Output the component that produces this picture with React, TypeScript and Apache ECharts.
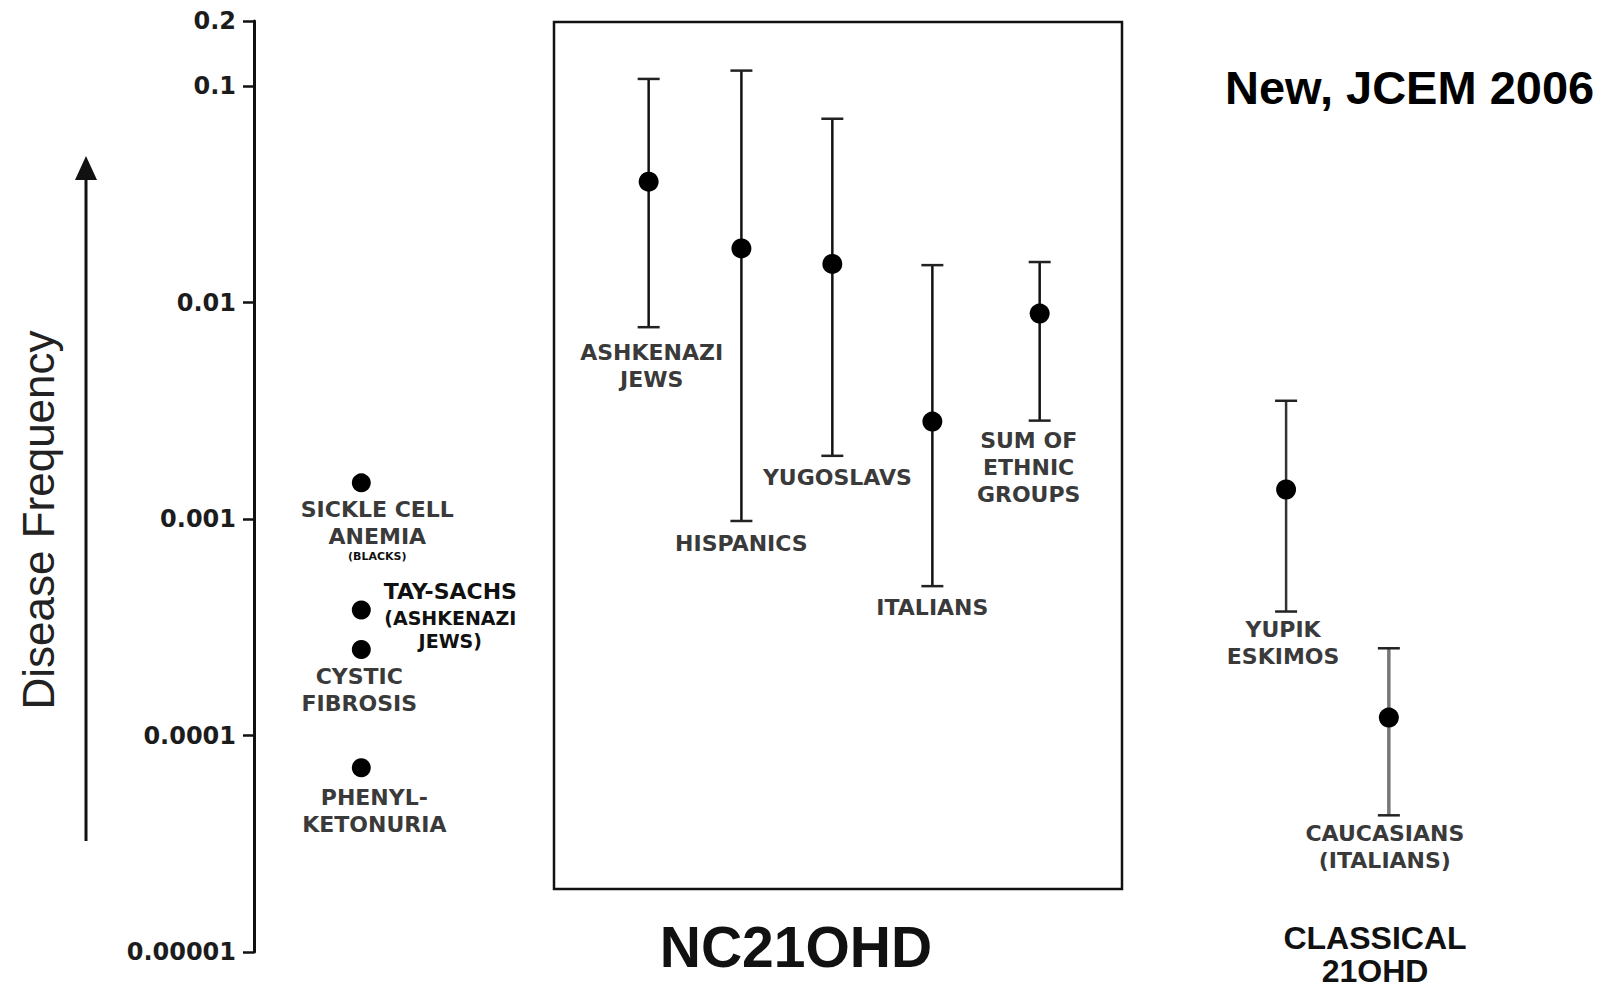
import React, { useEffect, useRef } from "react";
import * as echarts from "echarts";

// ---------- data ----------
// log y-axis tick values and their labels
const yTickValues = [0.00001, 0.0001, 0.001, 0.01, 0.1, 0.2];
const yTickLabels = ["0.00001", "0.0001", "0.001", "0.01", "0.1", "0.2"];

// common genetic diseases (points only)
const diseaseLabels = [
  ["SICKLE CELL", "ANEMIA", "(BLACKS)"],
  ["TAY-SACHS", "(ASHKENAZI", "JEWS)"],
  ["CYSTIC", "FIBROSIS"],
  ["PHENYL-", "KETONURIA"],
];
const diseaseX = [1.18, 1.18, 1.18, 1.18];
const diseaseFreq = [0.00147, 0.00038, 0.00025, 0.000071];

// non-classical 21-hydroxylase deficiency (NC21OHD)
const ncLabels = [
  ["ASHKENAZI", "JEWS"],
  ["HISPANICS"],
  ["YUGOSLAVS"],
  ["ITALIANS"],
  ["SUM OF", "ETHNIC", "GROUPS"],
];
const ncX = [4.34, 5.36, 6.36, 7.46, 8.64];
const ncFreq = [0.0362, 0.0178, 0.0151, 0.00282, 0.0089];
const ncLow = [0.0077, 0.00098, 0.00196, 0.00049, 0.00285];
const ncHigh = [0.108, 0.118, 0.0707, 0.0149, 0.0154];

// classical 21-hydroxylase deficiency
const clLabels = [
  ["YUPIK", "ESKIMOS"],
  ["CAUCASIANS", "(ITALIANS)"],
];
const clX = [11.35, 12.48];
const clFreq = [0.00137, 0.000121];
const clLow = [0.000374, 0.0000428];
const clHigh = [0.00352, 0.000253];

// ---------- layout / style (not data) ----------
const W = 1618;
const H = 989;
const LABEL_FONT = "bold 22px 'DejaVu Sans'";
const LABEL_COLOR = "#3a3a3a";
const LINE_H = 27;
// per-point label offsets relative to lower whisker (error bars) or dot (diseases)
const ncLabelOffset = [
  { dx: 3, dy: 25 },
  { dx: 0, dy: 23 },
  { dx: 5, dy: 22 },
  { dx: 0, dy: 21 },
  { dx: -11, dy: 20 },
];
const clLabelOffset = [
  { dx: -3, dy: 18 },
  { dx: -4, dy: 18 },
];
const diseaseLabelOffset = [
  { dx: 16, dy: 27, align: "center" },
  { dx: 89, dy: -19, align: "center" },
  { dx: -2, dy: 27, align: "center" },
  { dx: 13, dy: 30, align: "center" },
];

function textEl(x: number, y: number, text: string, font: string, fill: string, align = "center", lineHeight?: number) {
  const style: any = {
    text,
    font,
    fill,
    align,
    textAlign: align,
    verticalAlign: "middle",
    textVerticalAlign: "middle",
  };
  if (lineHeight) style.lineHeight = lineHeight;
  return { type: "text", x, y, style };
}

function makeErrorSeries(
  name: string,
  xs: number[],
  lows: number[],
  highs: number[],
  labels: string[][],
  offsets: { dx: number; dy: number }[],
  colorFn: (i: number) => string,
  widthFn: (i: number) => number
) {
  return {
    type: "custom",
    name,
    data: xs.map((x, i) => [x, lows[i], highs[i]]),
    encode: { x: 0, y: [1, 2] },
    z: 2,
    renderItem: (params: any, api: any) => {
      const i = params.dataIndex;
      const x = api.value(0);
      const pLo = api.coord([x, api.value(1)]);
      const pHi = api.coord([x, api.value(2)]);
      const cap = 11;
      const stroke = colorFn(i);
      const lw = widthFn(i);
      const children: any[] = [
        { type: "line", shape: { x1: pLo[0], y1: pLo[1], x2: pHi[0], y2: pHi[1] }, style: { stroke, lineWidth: lw } },
        { type: "line", shape: { x1: pLo[0] - cap, y1: pLo[1], x2: pLo[0] + cap, y2: pLo[1] }, style: { stroke: "#222", lineWidth: 2.5 } },
        { type: "line", shape: { x1: pHi[0] - cap, y1: pHi[1], x2: pHi[0] + cap, y2: pHi[1] }, style: { stroke: "#222", lineWidth: 2.5 } },
      ];
      const off = offsets[i];
      labels[i].forEach((ln, k) => {
        children.push(textEl(pLo[0] + off.dx, pLo[1] + off.dy + k * LINE_H, ln, LABEL_FONT, LABEL_COLOR));
      });
      return { type: "group", children };
    },
  };
}

export default function App() {
  const ref = useRef<HTMLDivElement>(null);

  useEffect(() => {
    if (!ref.current) return;
    const chart = echarts.init(ref.current, undefined, { renderer: "svg", width: W, height: H });

    const labelFor = (v: number) => {
      const lv = Math.log10(v);
      for (let i = 0; i < yTickValues.length; i++) {
        if (Math.abs(Math.log10(yTickValues[i]) - lv) < 0.02) return yTickLabels[i];
      }
      return "";
    };

    const option: any = {
      animation: false,
      backgroundColor: "#ffffff",
      grid: { left: 254, right: 0, top: 21, bottom: 37, containLabel: false },
      xAxis: { type: "value", min: 0, max: 15, show: false },
      yAxis: {
        type: "log",
        logBase: 10,
        min: 0.00001,
        max: 0.2,
        axisLine: { show: true, onZero: false, lineStyle: { color: "#111", width: 3 } },
        axisTick: { show: true, inside: false, length: 11, lineStyle: { color: "#111", width: 2.5 } },
        axisLabel: {
          show: true,
          margin: 18,
          color: "#1c1c1c",
          fontFamily: "DejaVu Sans",
          fontWeight: "bold",
          fontSize: 24,
          formatter: (v: number) => labelFor(v),
          showMinLabel: true,
          showMaxLabel: true,
        },
        splitLine: { show: false },
        minorTick: { show: false },
      },
      series: [
        makeErrorSeries(
          "NC21OHD",
          ncX,
          ncLow,
          ncHigh,
          ncLabels,
          ncLabelOffset,
          () => "#111",
          () => 2.5
        ),
        makeErrorSeries(
          "Classical 21OHD",
          clX,
          clLow,
          clHigh,
          clLabels,
          clLabelOffset,
          (i) => (i === 1 ? "#777" : "#333"),
          (i) => (i === 1 ? 3.5 : 2.5)
        ),
        {
          type: "scatter",
          name: "NC points",
          data: ncX.map((x, i) => [x, ncFreq[i]]),
          symbol: "circle",
          symbolSize: 20,
          itemStyle: { color: "#000", opacity: 1 },
          z: 5,
        },
        {
          type: "scatter",
          name: "Classical points",
          data: clX.map((x, i) => [x, clFreq[i]]),
          symbol: "circle",
          symbolSize: 20,
          itemStyle: { color: "#000", opacity: 1 },
          z: 5,
        },
        {
          type: "custom",
          name: "Diseases",
          data: diseaseX.map((x, i) => [x, diseaseFreq[i]]),
          encode: { x: 0, y: 1 },
          z: 5,
          renderItem: (params: any, api: any) => {
            const i = params.dataIndex;
            const p = api.coord([api.value(0), api.value(1)]);
            const off = diseaseLabelOffset[i];
            const children: any[] = [
              { type: "circle", shape: { cx: p[0], cy: p[1], r: 9.5 }, style: { fill: "#000" } },
            ];
            const lines = diseaseLabels[i];
            let y = p[1] + off.dy;
            lines.forEach((ln, k) => {
              const small = ln === "(BLACKS)";
              const isTay = i === 1;
              const font = small
                ? "bold 11px 'DejaVu Sans'"
                : isTay
                ? k === 0
                  ? "bold 22px 'DejaVu Sans'"
                  : "bold 19px 'DejaVu Sans'"
                : LABEL_FONT;
              const fill = isTay || small ? "#111" : LABEL_COLOR;
              children.push(textEl(p[0] + off.dx, y, ln, font, fill, off.align));
              y += small ? 0 : k === 0 && isTay ? 27 : lines[k + 1] === "(BLACKS)" ? 20 : isTay ? 23 : LINE_H;
            });
            return { type: "group", children };
          },
        },
      ],
      graphic: [
        {
          type: "rect",
          shape: { x: 554, y: 22, width: 568, height: 867 },
          style: { fill: "none", stroke: "#111", lineWidth: 2.5 },
          z: 1,
        },
        {
          type: "line",
          shape: { x1: 86, y1: 841, x2: 86, y2: 172 },
          style: { stroke: "#111", lineWidth: 3 },
        },
        {
          type: "polygon",
          shape: { points: [[86, 156], [75, 180], [97, 180]] },
          style: { fill: "#111" },
        },
        {
          type: "text",
          x: 38,
          y: 520,
          rotation: Math.PI / 2,
          style: {
            text: "Disease Frequency",
            font: "44px 'Liberation Sans'",
            fill: "#222",
            align: "center",
            textAlign: "center",
            verticalAlign: "middle",
            textVerticalAlign: "middle",
          },
        },
        textEl(1225, 87, "New, JCEM 2006", "bold 47px 'Liberation Sans'", "#000", "left"),
        textEl(796, 947, "NC21OHD", "bold 57px 'Liberation Sans'", "#111"),
        textEl(1375, 954, "CLASSICAL\n21OHD", "bold 32px 'Liberation Sans'", "#111", "center", 33),
      ],
    };

    chart.setOption(option);
    return () => chart.dispose();
  }, []);

  return (
    <div
      ref={ref}
      style={{ position: "fixed", left: 0, top: 0, width: W + "px", height: H + "px", background: "#fff" }}
    />
  );
}
